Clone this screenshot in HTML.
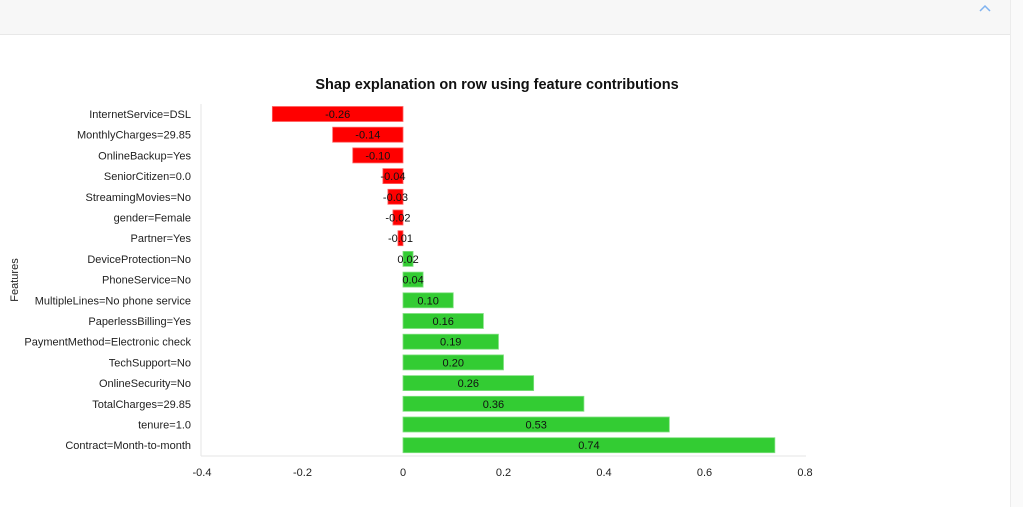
<!DOCTYPE html>
<html><head><meta charset="utf-8"><style>
body{margin:0;width:1023px;height:507px;background:#fff;font-family:"Liberation Sans",sans-serif;overflow:hidden;position:relative}
#hdr{position:absolute;left:0;top:0;width:1010px;height:34px;background:#f7f7f7;border-bottom:1px solid #e8e8e8}
#side{position:absolute;left:1010px;top:0;width:13px;height:507px;background:#fafafa;border-left:1px solid #ececec}
</style></head><body>
<div id="hdr"></div>
<div id="side"></div>
<svg width="1023" height="507" style="position:absolute;left:0;top:0">
<polyline points="980,11 985,6 990,11" fill="none" stroke="#7fb2f0" stroke-width="1.5"/>
<text x="497" y="89" text-anchor="middle" font-size="14.5" font-weight="bold" fill="#111">Shap explanation on row using feature contributions</text>
<text transform="translate(18,280) rotate(-90)" text-anchor="middle" font-size="11" fill="#222">Features</text>
<g id="plot"></g>
</svg>
<script>
const features=["InternetService=DSL","MonthlyCharges=29.85","OnlineBackup=Yes","SeniorCitizen=0.0","StreamingMovies=No","gender=Female","Partner=Yes","DeviceProtection=No","PhoneService=No","MultipleLines=No phone service","PaperlessBilling=Yes","PaymentMethod=Electronic check","TechSupport=No","OnlineSecurity=No","TotalCharges=29.85","tenure=1.0","Contract=Month-to-month"];
const values=[-0.26,-0.14,-0.10,-0.04,-0.03,-0.02,-0.01,0.02,0.04,0.10,0.16,0.19,0.20,0.26,0.36,0.53,0.74];
const xTicks=[-0.4,-0.2,0,0.2,0.4,0.6,0.8];
const NS="http://www.w3.org/2000/svg";
const g=document.getElementById('plot');
const x=v=>403+v*502.5;
const y=i=>114+i*20.7;
function mk(t,a){const e=document.createElementNS(NS,t);for(const k in a)e.setAttribute(k,a[k]);g.appendChild(e);return e;}
let ax=mk('line',{x1:201,y1:104,x2:201,y2:456,stroke:'#e6e6e6'});


let bx=mk('line',{x1:201,y1:456,x2:806,y2:456,stroke:'#e6e6e6'});


xTicks.forEach(t=>{
 const e=mk('text',{x:x(t),y:476,'text-anchor':'middle','font-size':11,fill:'#222'});
 e.textContent=String(t);
 
 
});
features.forEach((f,i)=>{
 const v=values[i],c=y(i);
 const l=mk('text',{x:191,y:c+4,'text-anchor':'end','font-size':11,fill:'#222'});
 l.textContent=f;
 
 
 const x0=Math.min(x(0),x(v)),w=Math.abs(x(v)-x(0));
 const col=v<0?'#ff0000':'#33cc33';
 const r=mk('rect',{x:x0,y:c-7.5,width:w,height:15,fill:col,stroke:v<0?'#ff6060':'#80e080','stroke-width':0.8});
 
 
 const t=mk('text',{x:x0+w/2,y:c+4,'text-anchor':'middle','font-size':11,fill:'#111'});
 t.textContent=v.toFixed(2);
 
 
});
</script>
</body></html>
